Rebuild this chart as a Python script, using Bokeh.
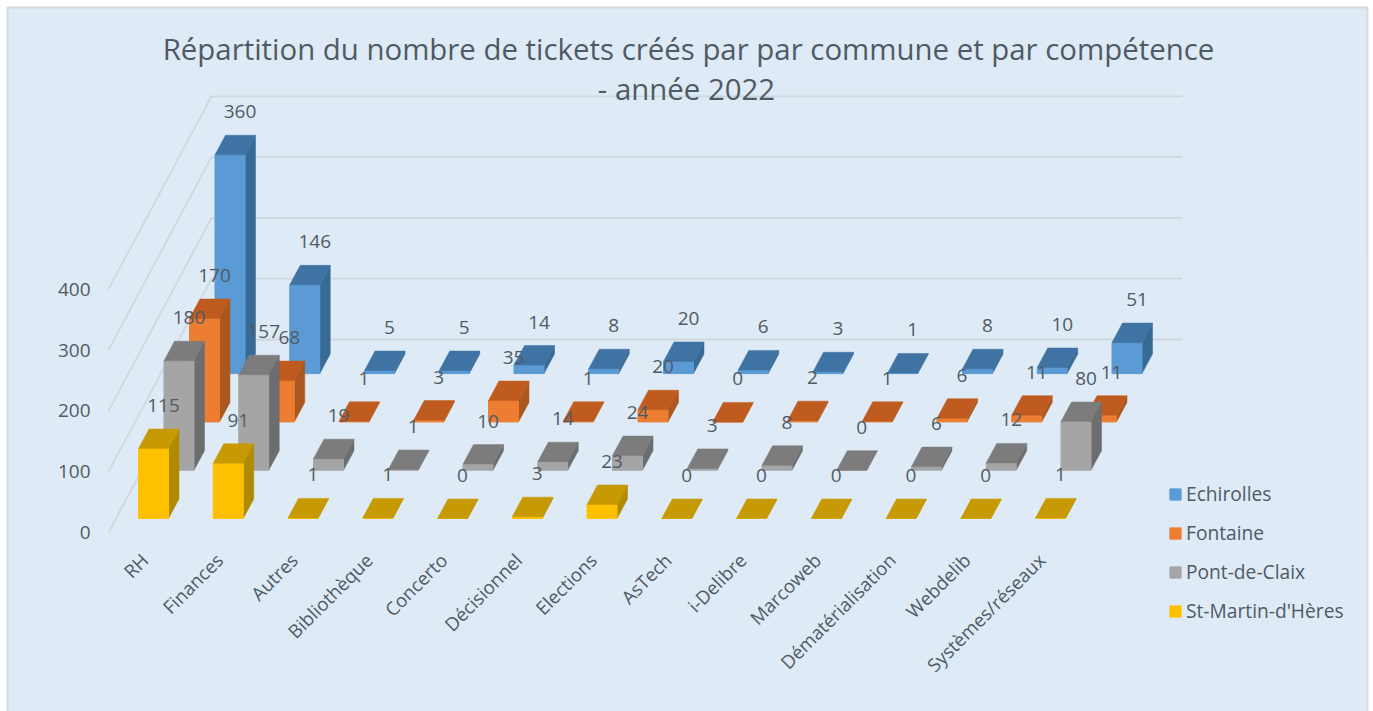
import math
from bokeh.plotting import figure
from bokeh.models import Range1d, LinearAxis, FixedTicker, Legend, LegendItem, ColumnDataSource
from bokeh.core.properties import value
from bokeh.embed import file_html
from bokeh.resources import INLINE

title_lines = ["Répartition du nombre de tickets créés par par commune et par compétence", "- année 2022"]
categories = ["RH", "Finances", "Autres", "Bibliothèque", "Concerto", "Décisionnel", "Elections",
              "AsTech", "i-Delibre", "Marcoweb", "Dématérialisation", "Webdelib", "Systèmes/réseaux"]
echirolles = [360, 146, 5, 5, 14, 8, 20, 6, 3, 1, 8, 10, 51]
fontaine = [170, 68, 1, 3, 35, 1, 20, 0, 2, 1, 6, 11, 11]
pont_de_claix = [180, 157, 19, 1, 10, 14, 24, 3, 8, 0, 6, 12, 80]
st_martin = [115, 91, 1, 1, 0, 3, 23, 0, 0, 0, 0, 0, 1]
value_ticks = [0, 100, 200, 300, 400]

# series drawn back to front: name, values, row depth, front / top / side colour
series = [
    ("Echirolles", echirolles, 3, "#5B9BD5", "#3F73A4", "#386A96"),
    ("Fontaine", fontaine, 2, "#ED7D31", "#BF5B1E", "#A9591F"),
    ("Pont-de-Claix", pont_de_claix, 1, "#A5A5A5", "#7C7C7C", "#6D6D6D"),
    ("St-Martin-d'Hères", st_martin, 0, "#FFC000", "#C69A00", "#B08A00"),
]

PX_CAT = 74.75        # px per category
PX_VAL = 0.608        # px per ticket
FIG_W, FIG_H = 1373, 711
ZERO_X, ZERO_Y = 153, 532
TEXT = "#505A65"
BG = "#DEEAF6"
GRID = "#CFD7DE"
FONT = "Open Sans"

def dx(px):
    return px / PX_CAT
def dy(px):
    return px / PX_VAL
def X(px):
    return (px - ZERO_X) / PX_CAT
def Y(px):
    return (ZERO_Y - px) / PX_VAL

BAR_W = dx(30)
DEPTH_X = dx(10.5)
DEPTH_Y = dy(19.5)
ROW_X = dx(25.5)
ROW_Y = dy(48.3)
BASE_Y = Y(518)

p = figure(width=FIG_W, height=FIG_H, output_backend="svg", toolbar_location=None,
           x_range=Range1d(X(0), X(FIG_W)), y_range=Range1d(Y(FIG_H), Y(0)),
           x_axis_type=None, y_axis_type=None,
           min_border_left=0, min_border_right=0, min_border_top=0, min_border_bottom=0,
           background_fill_color="white", border_fill_color="white", outline_line_color=None)
p.grid.visible = False
p.extra_x_ranges["labels"] = Range1d(X(9), X(FIG_W + 9))

# chart panel
p.quad(left=[X(7)], right=[X(1367)], bottom=[Y(FIG_H + 2)], top=[Y(7)], fill_color=BG,
       line_color="#D6D9DD", line_width=2)

yaxis = LinearAxis(ticker=FixedTicker(ticks=value_ticks), bounds=(0, 400), axis_line_color=None,
                   fixed_location=X(98),
                   major_tick_line_color=None, minor_tick_line_color=None, major_label_standoff=2,
                   major_label_text_font=FONT, major_label_text_font_size="19px",
                   major_label_text_color=TEXT)
p.add_layout(yaxis, "left")

xaxis = LinearAxis(ticker=FixedTicker(ticks=list(range(len(categories)))),
                   x_range_name="labels", fixed_location=Y(546),
                   major_label_overrides={i: c for i, c in enumerate(categories)},
                   axis_line_color=None, major_tick_line_color=None, minor_tick_line_color=None,
                   major_label_orientation=math.radians(45), major_label_standoff=4,
                   major_label_text_font=FONT, major_label_text_font_size="18.6px",
                   major_label_text_color=TEXT)
p.add_layout(xaxis, "below")

# walls
wall_xs, wall_ys = [], []
for t in value_ticks:
    wall_xs.append([X(108), X(211), X(1182)])
    wall_ys.append([t, t + dy(193), t + dy(193)])
p.multi_line(wall_xs, wall_ys, line_color=GRID, line_width=1.8)

legend_items = []
labels = {"x": [], "y": [], "t": []}
for name, vals, row, front_c, top_c, side_c in series:
    f = {"xs": [], "ys": []}
    t = {"xs": [], "ys": []}
    s = {"xs": [], "ys": []}
    for i, v in enumerate(vals):
        x0 = i - BAR_W / 2 + row * ROW_X
        x1 = x0 + BAR_W
        y0 = BASE_Y + row * ROW_Y
        y1 = y0 + v
        f["xs"].append([x0, x1, x1, x0]); f["ys"].append([y0, y0, y1, y1])
        t["xs"].append([x0, x1, x1 + DEPTH_X, x0 + DEPTH_X]); t["ys"].append([y1, y1, y1 + DEPTH_Y, y1 + DEPTH_Y])
        s["xs"].append([x1, x1 + DEPTH_X, x1 + DEPTH_X, x1]); s["ys"].append([y0, y0 + DEPTH_Y, y1 + DEPTH_Y, y1])
        labels["x"].append(x0 + dx(25))
        labels["y"].append(y1 + dy(43))
        labels["t"].append(str(v))
    p.patches("xs", "ys", source=ColumnDataSource(s), fill_color=side_c, line_color=side_c, line_width=0.5)
    fr = p.patches("xs", "ys", source=ColumnDataSource(f), fill_color=front_c, line_color=front_c, line_width=1)
    p.patches("xs", "ys", source=ColumnDataSource(t), fill_color=top_c, line_color=top_c, line_width=0.5)
    legend_items.append(LegendItem(label=name, renderers=[fr]))

p.text("x", "y", "t", source=ColumnDataSource(labels), text_align="center", text_baseline="middle",
       text_font=value(FONT), text_font_size="19px", text_color=TEXT)

p.text([X(688), X(686)], [Y(48), Y(88)], title_lines, text_align="center", text_baseline="middle",
       text_font=value(FONT), text_font_size="29.4px", text_color=TEXT)

legend = Legend(items=legend_items, location=(1168, FIG_H - 624), orientation="vertical",
                background_fill_alpha=0, border_line_color=None, padding=0, margin=0, spacing=12,
                glyph_width=14, glyph_height=14, label_standoff=4, label_height=26,
                label_text_font=FONT, label_text_font_size="19.2px", label_text_color=TEXT)
p.add_layout(legend, "center")

open("out.html", "w").write(file_html(p, INLINE))
